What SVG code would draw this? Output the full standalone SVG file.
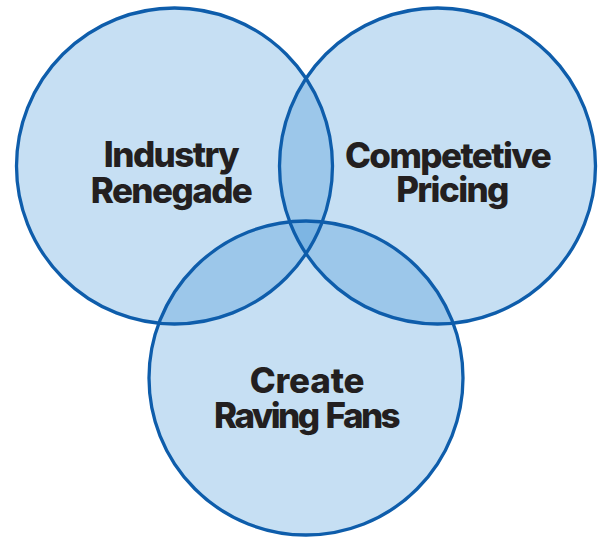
<svg xmlns="http://www.w3.org/2000/svg" width="605" height="540" viewBox="0 0 605 540">
  <style>
    .fill { fill: #2685D1; fill-opacity: 0.263; stroke: none; }
    .ring { fill: none; stroke: #0E5DAB; stroke-width: 3.3; }
    .lbl { font-family: Inter, "Liberation Sans", sans-serif; font-weight: 800; font-size: 35px; letter-spacing: -1.6px; fill: #231F20; text-anchor: middle; }
  </style>
  <rect width="605" height="540" fill="#FFFFFF"/>
  <g id="industry-renegade">
    <circle class="fill" cx="174.5" cy="166" r="158"/>
    <text class="lbl" x="171" y="166.5">Industry</text>
    <text class="lbl" x="171" y="202.5">Renegade</text>
  </g>
  <g id="competetive-pricing">
    <circle class="fill" cx="437.5" cy="166" r="158"/>
    <text class="lbl" x="447.5" y="168">Competetive</text>
    <text class="lbl" x="452" y="202">Pricing</text>
  </g>
  <g id="create-raving-fans">
    <circle class="fill" cx="306" cy="378" r="157"/>
    <text class="lbl" x="307" y="392.5" style="letter-spacing:-0.2px">Create</text>
    <text class="lbl" x="306" y="428" style="letter-spacing:-2.6px; word-spacing:3px">Raving Fans</text>
  </g>
  <g id="outlines">
    <circle class="ring" cx="174.5" cy="166" r="158"/>
    <circle class="ring" cx="437.5" cy="166" r="158"/>
    <circle class="ring" cx="306" cy="378" r="157"/>
  </g>
</svg>
